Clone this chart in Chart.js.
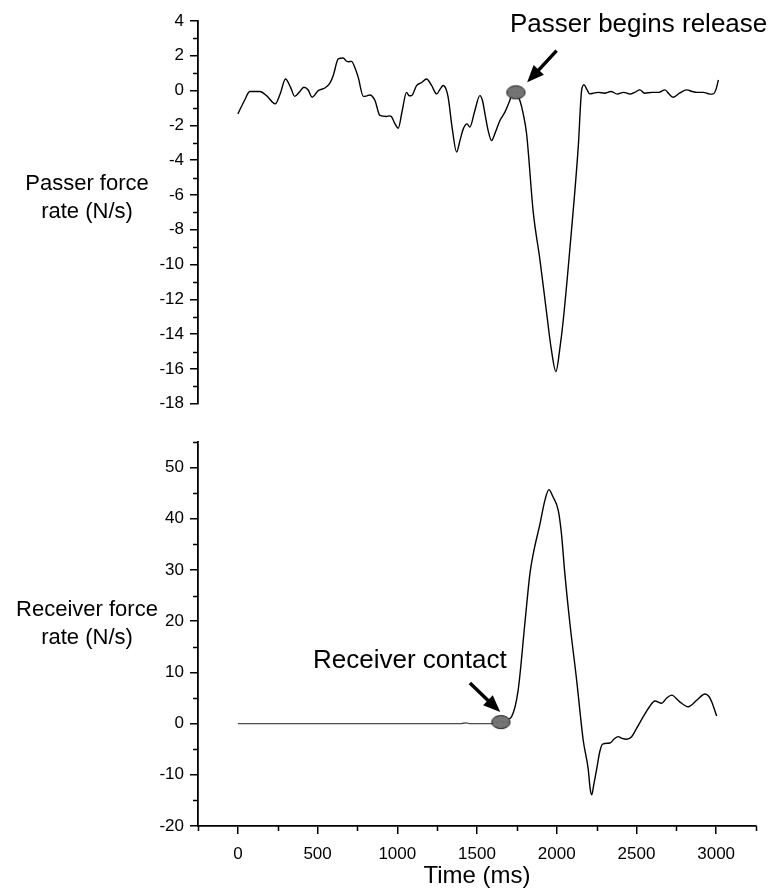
<!DOCTYPE html>
<html>
<head>
<meta charset="utf-8">
<title>Passer and receiver force rate</title>
<script src="https://cdn.jsdelivr.net/npm/chart.js@4.4.0/dist/chart.umd.min.js"></script>
<style>
  body { margin: 0; background: #fff; }
  #wrap { position: relative; width: 783px; height: 888px; overflow: hidden;
          font-family: 'Liberation Sans', Arial, Helvetica, sans-serif; color: #000; }
  canvas { position: absolute; left: 0; }
  #passer-chart { top: 0; }
  #receiver-chart { top: 420px; }
  .label { position: absolute; white-space: nowrap; }
  .ytitle { left: 0; width: 174px; text-align: center; font-size: 22px; line-height: 28px; }
  .note { font-size: 26px; line-height: 26px; }
</style>
</head>
<body>
<div id="wrap">
  <canvas id="passer-chart" width="783" height="420"></canvas>
  <canvas id="receiver-chart" width="783" height="468"></canvas>
  <div class="label ytitle" style="top:169px">Passer force<br>rate (N/s)</div>
  <div class="label ytitle" style="top:595px">Receiver force<br>rate (N/s)</div>
  <div class="label note" style="left:510px; top:10px">Passer begins release</div>
  <div class="label note" style="left:313px; top:646px">Receiver contact</div>
</div>
<script>
// axis ticks
const timeTicks = [0, 500, 1000, 1500, 2000, 2500, 3000];
const timeMinor = [-250, 250, 750, 1250, 1750, 2250, 2750, 3250];
const passerTicks = [-18, -16, -14, -12, -10, -8, -6, -4, -2, 0, 2, 4];
const passerMinor = [-17, -15, -13, -11, -9, -7, -5, -3, -1, 1, 3];
const receiverTicks = [-20, -10, 0, 10, 20, 30, 40, 50];
const receiverMinor = [-15, -5, 5, 15, 25, 35, 45, 55];

// passer force rate (N/s) against time (ms)
const passerTime = [
  0, 40, 75, 138, 180, 234, 265, 299, 330, 357,
  385, 414, 440, 466, 504, 546, 575, 598, 630, 661,
  680, 692, 713, 735, 755, 787, 810, 828, 860, 891,
  933, 950, 964, 985, 1006, 1030, 1058, 1075, 1090, 1121,
  1150, 1184, 1215, 1247, 1270, 1288, 1305, 1319, 1345, 1372,
  1395, 1414, 1438, 1455, 1485, 1518, 1535, 1550, 1570, 1591,
  1615, 1644, 1675, 1700, 1717, 1744, 1770, 1790, 1811, 1853,
  1895, 1937, 1965, 1995, 2020, 2041, 2093, 2135, 2156, 2171,
  2190, 2208, 2229, 2260, 2300, 2340, 2380, 2420, 2460, 2490,
  2522, 2550, 2600, 2640, 2679, 2705, 2731, 2770, 2815, 2850,
  2880, 2920, 2960, 2982, 3000, 3014
];
const passerRate = [
  -1.34, -0.6, -0.05, -0.05, -0.29, -0.76, -0.2, 0.67, 0.2, -0.33,
  -0.1, 0.19, 0.05, -0.38, 0, 0.15, 0.4, 0.86, 1.82, 1.87,
  1.7, 1.66, 1.68, 1.3, 0.76, -0.33, -0.3, -0.25, -0.57, -1.43,
  -1.49, -1.45, -1.5, -1.9, -2.16, -1.2, -0.1, -0.3, -0.29, 0.29,
  0.45, 0.67, 0.3, -0.19, 0.1, 0.29, 0.1, -0.38, -2.2, -3.53,
  -2.8, -2.2, -1.91, -2.1, -1.2, -0.29, -0.6, -1.34, -2.3, -2.87,
  -2.4, -1.72, -1.24, -0.7, -0.29, -0.1, -0.6, -1.34, -2.48, -7.0,
  -9.74, -12.8, -14.8, -16.14, -14.8, -13.2, -8.0, -3.25, 0, 0.34,
  0.05, -0.19, -0.15, -0.1, -0.15, -0.05, -0.2, -0.1, -0.2, -0.1,
  0.04, -0.15, -0.1, -0.1, 0.04, -0.2, -0.38, -0.15, 0.04, -0.05,
  -0.1, -0.1, -0.2, -0.19, 0.1, 0.61
];

// receiver force rate (N/s) against time (ms)
const receiverTime = [
  0, 1400, 1430, 1450, 1600, 1650, 1690, 1717, 1758, 1800,
  1832, 1853, 1895, 1925, 1951, 1975, 2010, 2030, 2051, 2083,
  2125, 2166, 2198, 2210, 2220, 2232, 2250, 2270, 2288, 2334,
  2360, 2386, 2410, 2438, 2470, 2500, 2543, 2580, 2616, 2658,
  2690, 2721, 2770, 2825, 2880, 2930, 2955, 2972, 3003
];
const receiverRate = [
  0, 0, 0.15, 0, 0, 0.3, 0.8, 1.35, 6.5, 19.5,
  29.3, 33.2, 39.0, 43.5, 45.7, 44.4, 41.6, 37, 29.3, 19.5,
  8.5, -3.2, -9.0, -12.8, -13.9, -12, -9.0, -5.5, -4.0, -3.8,
  -3.0, -2.55, -2.9, -3.06, -2.55, -1.0, 1.35, 3.2, 4.4, 3.96,
  5.0, 5.57, 4.3, 3.3, 4.6, 5.77, 5.3, 4.27, 1.48
];

// event markers [time, rate]
const passerRelease = [1744, -0.1];
const receiverContact = [1650, 0.3];

Chart.defaults.font.family = "'Liberation Sans', Arial, Helvetica, sans-serif";
Chart.defaults.color = '#000';

function markerImage() {
  let c = document.createElement('canvas');
  c.width = 21;
  c.height = 16;
  let g = c.getContext('2d');
  g.beginPath();
  g.ellipse(10.5, 8, 9.2, 6.6, 0, 0, 2 * Math.PI);
  g.fillStyle = '#8a8a8a';
  g.fill();
  // cross hatching like the original print
  g.save();
  g.clip();
  g.strokeStyle = '#555';
  g.lineWidth = 0.6;
  g.beginPath();
  for (let k = -16; k < 24; k += 2.5) {
    g.moveTo(k, 0); g.lineTo(k + 16, 16);
    g.moveTo(k + 16, 0); g.lineTo(k, 16);
  }
  g.stroke();
  g.restore();
  g.beginPath();
  g.ellipse(10.5, 8, 9.2, 6.6, 0, 0, 2 * Math.PI);
  g.strokeStyle = '#222';
  g.lineWidth = 1;
  g.stroke();
  return c;
}

function toPoints(xs, ys) {
  return xs.map((t, i) => ({ x: t, y: ys[i] }));
}

// short minor tick marks on the outside of the axes
function minorTicks(xMinor, yMinor) {
  return {
    id: 'minorTicks',
    afterDraw(chart) {
      let ctx = chart.ctx;
      let area = chart.chartArea;
      ctx.save();
      ctx.strokeStyle = '#000';
      ctx.lineWidth = 1.5;
      ctx.beginPath();
      yMinor.forEach(v => {
        let py = Math.round(chart.scales.y.getPixelForValue(v)) + 0.5;
        ctx.moveTo(area.left - 5, py);
        ctx.lineTo(area.left, py);
      });
      xMinor.forEach(v => {
        let px = Math.round(chart.scales.x.getPixelForValue(v)) + 0.5;
        ctx.moveTo(px, area.bottom);
        ctx.lineTo(px, area.bottom + 5);
      });
      ctx.stroke();
      ctx.restore();
    }
  };
}

// arrow pointing at the marker (dataset 0), offsets in pixels from it
function arrow(tail, tip) {
  return {
    id: 'arrow',
    afterDatasetsDraw(chart) {
      let p = chart.getDatasetMeta(0).data[0];
      let ctx = chart.ctx;
      let x0 = p.x + tail[0], y0 = p.y + tail[1];
      let x1 = p.x + tip[0], y1 = p.y + tip[1];
      let ang = Math.atan2(y1 - y0, x1 - x0);
      let head = 17, half = 7;
      let bx = x1 - head * Math.cos(ang), by = y1 - head * Math.sin(ang);
      ctx.save();
      ctx.strokeStyle = '#000';
      ctx.fillStyle = '#000';
      ctx.lineWidth = 3.5;
      ctx.beginPath();
      ctx.moveTo(x0, y0);
      ctx.lineTo(bx + 2 * Math.cos(ang), by + 2 * Math.sin(ang));
      ctx.stroke();
      ctx.beginPath();
      ctx.moveTo(x1, y1);
      ctx.lineTo(bx - half * Math.sin(ang), by + half * Math.cos(ang));
      ctx.lineTo(bx + half * Math.sin(ang), by - half * Math.cos(ang));
      ctx.closePath();
      ctx.fill();
      ctx.restore();
    }
  };
}

function yAxis(min, max, ticks) {
  return {
    type: 'linear',
    min: min,
    max: max,
    afterFit: s => { s.width = 198; },
    afterBuildTicks: s => { s.ticks = ticks.map(v => ({ value: v })); },
    border: { color: '#000', width: 1.8 },
    grid: { drawOnChartArea: false, drawTicks: true, tickLength: 8, tickColor: '#000', lineWidth: 1.5 },
    ticks: { color: '#000', font: { size: 17 }, padding: 6, callback: v => String(v) }
  };
}

function renderPasser() {
  let ctx = document.getElementById('passer-chart');
  new Chart(ctx, {
    type: 'line',
    data: {
      datasets: [{
        data: [{ x: passerRelease[0], y: passerRelease[1] }],
        showLine: false,
        pointStyle: markerImage(),
        pointRadius: 9
      }, {
        data: toPoints(passerTime, passerRate),
        borderColor: '#000',
        borderWidth: 1.4,
        pointRadius: 0,
        cubicInterpolationMode: 'monotone',
        fill: false
      }]
    },
    options: {
      responsive: false,
      animation: false,
      events: [],
      layout: { padding: { left: 0, top: 21, right: 27, bottom: 16 } },
      plugins: { legend: { display: false }, tooltip: { enabled: false } },
      scales: {
        x: { type: 'linear', min: -250, max: 3250, display: false },
        y: yAxis(-18, 4, passerTicks)
      }
    },
    plugins: [minorTicks([], passerMinor), arrow([40.7, -41.7], [11.3, -10])]
  });
}

function renderReceiver() {
  let ctx = document.getElementById('receiver-chart');
  new Chart(ctx, {
    type: 'line',
    data: {
      datasets: [{
        data: [{ x: receiverContact[0], y: receiverContact[1] }],
        showLine: false,
        pointStyle: markerImage(),
        pointRadius: 9
      }, {
        data: toPoints(receiverTime, receiverRate),
        borderColor: '#000',
        borderWidth: 1.4,
        pointRadius: 0,
        cubicInterpolationMode: 'monotone',
        fill: false,
        // the resting part before contact is printed in dark grey
        segment: { borderColor: c => c.p1.parsed.x <= receiverContact[0] ? '#4d4d4d' : undefined }
      }]
    },
    options: {
      responsive: false,
      animation: false,
      events: [],
      layout: { padding: { left: 0, top: 22, right: 27, bottom: 0 } },
      plugins: { legend: { display: false }, tooltip: { enabled: false } },
      scales: {
        x: {
          type: 'linear',
          min: -250,
          max: 3250,
          afterFit: s => { s.height = 62; },
          afterBuildTicks: s => { s.ticks = timeTicks.map(v => ({ value: v })); },
          border: { color: '#000', width: 1.8 },
          grid: { drawOnChartArea: false, drawTicks: true, tickLength: 8, tickColor: '#000', lineWidth: 1.5 },
          ticks: { color: '#000', font: { size: 17 }, padding: 10, autoSkip: false, maxRotation: 0, callback: v => String(v) },
          title: { display: true, text: 'Time (ms)', color: '#000', font: { size: 24, lineHeight: 1 }, padding: 0 }
        },
        y: yAxis(-20, 55, receiverTicks)
      }
    },
    plugins: [minorTicks(timeMinor, receiverMinor), arrow([-31, -39], [-0.7, -10])]
  });
}

function app() {
  renderPasser();
  renderReceiver();
}

app();
</script>
</body>
</html>
